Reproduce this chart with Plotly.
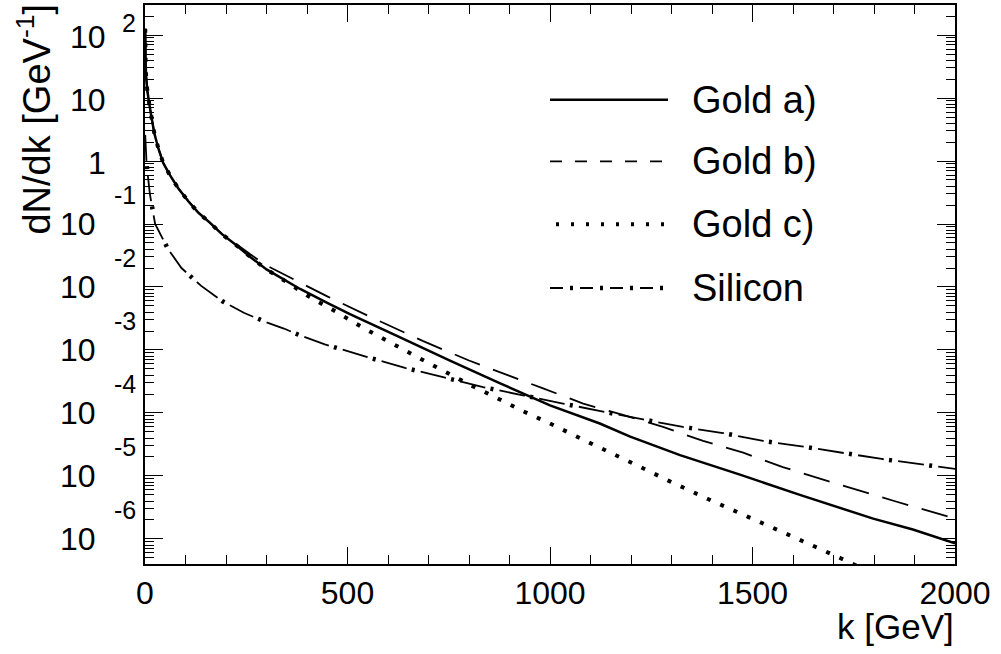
import math
import plotly.graph_objects as go

# ---------------- data ----------------
series_names = ["Gold a)", "Gold b)", "Gold c)", "Silicon"]

k_gold_a = [0.5, 1, 1.5, 2.5, 5.5, 10.5, 16.5, 23, 33, 45, 62, 82, 107, 132, 160, 190,
            220, 260, 300, 383, 450, 506, 630, 753, 877, 1000, 1123, 1198, 1321, 1469,
            1617, 1798, 1896, 2000]
dndk_gold_a = [126, 71, 40, 23.4, 13.5, 8.1, 4.8, 2.75, 1.58, 0.93, 0.59, 0.37, 0.23, 0.151,
               0.105, 0.069, 0.049, 0.030, 0.019, 9.3e-3, 5.6e-3, 3.7e-3, 1.58e-3, 6.8e-4,
               2.95e-4, 1.32e-4, 6.8e-5, 4.2e-5, 2.14e-5, 1.05e-5, 5.0e-6, 2.1e-6, 1.41e-6,
               8.5e-7]

k_gold_b = [0.5, 1, 1.5, 2.5, 5.5, 10.5, 16.5, 23, 33, 45, 62, 82, 107, 132, 160, 190,
            220, 260, 300, 383, 450, 550, 687, 800, 983, 1082, 1180, 1279, 1378, 1477,
            1575, 1700, 1850, 2000]
dndk_gold_b = [126, 71, 40, 23.4, 13.5, 8.1, 4.8, 2.75, 1.58, 0.93, 0.59, 0.37, 0.23, 0.151,
               0.105, 0.069, 0.051, 0.033, 0.022, 0.0117, 7.1e-3, 3.5e-3, 1.38e-3, 6.8e-4,
               2.45e-4, 1.41e-4, 9.3e-5, 6.0e-5, 3.6e-5, 2.34e-5, 1.38e-5, 7.8e-6, 4.0e-6,
               2.1e-6]

k_gold_c = [0.5, 1, 1.5, 2.5, 5.5, 10.5, 16.5, 23, 33, 45, 62, 82, 107, 132, 160, 190,
            220, 260, 300, 350, 407, 473, 539, 605, 671, 736, 802, 868, 933, 1000, 1096,
            1195, 1291, 1390, 1489, 1588, 1719, 1780]
dndk_gold_c = [126, 71, 40, 23.4, 13.5, 8.1, 4.8, 2.75, 1.58, 0.93, 0.59, 0.37, 0.23, 0.151,
               0.105, 0.069, 0.049, 0.030, 0.019, 0.012, 6.9e-3, 4.0e-3, 2.24e-3, 1.32e-3,
               7.8e-4, 4.7e-4, 2.8e-4, 1.74e-4, 1.07e-4, 6.8e-5, 3.4e-5, 1.7e-5, 8.5e-6,
               4.3e-6, 2.24e-6, 1.17e-6, 4.9e-7, 3.2e-7]

k_silicon = [0.5, 4, 12, 25, 57, 90, 138, 190, 244, 300, 343, 383, 444, 543, 642, 736,
             835, 933, 1032, 1131, 1230, 1328, 1427, 1526, 1621, 1819, 2000]
dndk_silicon = [2.6, 0.89, 0.30, 0.10, 0.040, 0.020, 0.0105, 6.0e-3, 3.9e-3, 2.75e-3,
                2.19e-3, 1.70e-3, 1.23e-3, 7.9e-4, 5.2e-4, 3.7e-4, 2.57e-4, 1.91e-4,
                1.41e-4, 1.05e-4, 7.9e-5, 6.0e-5, 4.8e-5, 3.6e-5, 2.95e-5, 1.86e-5, 1.29e-5]

x_tick_vals = [0, 500, 1000, 1500, 2000]
x_tick_text = ["0", "500", "1000", "1500", "2000"]

y_decades = [2, 1, 0, -1, -2, -3, -4, -5, -6]
y_tick_base = ["10", "10", "1", "10", "10", "10", "10", "10", "10"]
y_tick_exp = ["2", "", "", "-1", "-2", "-3", "-4", "-5", "-6"]

x_title = "k [GeV]"
y_title = "dN/dk [GeV<sup>-1</sup>]"

# ---------------- layout constants ----------------
FONT = "Liberation Sans, Arial, Helvetica, sans-serif"
W, H = 1001, 654
L, R, T, B = 145, 46, 3, 90
PW, PH = W - L - R, H - T - B


def px_x(px):
    return (px - L) / PW


def px_y(py):
    return (H - B - py) / PH


fig = go.Figure()

common = dict(mode="lines", showlegend=False, hoverinfo="skip")
fig.add_trace(go.Scatter(x=k_gold_a, y=dndk_gold_a, name=series_names[0],
                         line=dict(color="black", width=2.5, dash="solid", simplify=False), **common))
fig.add_trace(go.Scatter(x=k_gold_b, y=dndk_gold_b, name=series_names[1],
                         line=dict(color="black", width=1.8, dash="27px,14px", simplify=False), **common))
fig.add_trace(go.Scatter(x=k_gold_c, y=dndk_gold_c, name=series_names[2],
                         line=dict(color="black", width=4, dash="4px,10.5px", simplify=False), **common))
fig.add_trace(go.Scatter(x=k_silicon, y=dndk_silicon, name=series_names[3],
                         line=dict(color="black", width=1.8, dash="26px,14.5px", simplify=False), **common))
fig.add_trace(go.Scatter(x=k_silicon, y=dndk_silicon, name=series_names[3] + " dots",
                         line=dict(color="black", width=4.5, dash="0px,31.3px,3px,6.2px", simplify=False),
                         **common))

annotations = []
# y tick labels in ROOT style (10 with a floating exponent)
for d, base, ex in zip(y_decades, y_tick_base, y_tick_exp):
    if d >= 0:
        bx, shift, ex_x, ex_shift = 108, -2, 120, 12
    else:
        bx, shift, ex_x, ex_shift = 98, 0, 112, 29
    if d == 0:
        bx = 108
    annotations.append(dict(x=px_x(bx), y=d, xref="paper", yref="y", text=base,
                            xanchor="right", yanchor="middle", yshift=shift, showarrow=False,
                            font=dict(family=FONT, size=32, color="black")))
    if ex:
        annotations.append(dict(x=px_x(ex_x), y=d, xref="paper", yref="y", text=ex,
                                xanchor="left", yanchor="middle", yshift=ex_shift, showarrow=False,
                                font=dict(family=FONT, size=25, color="black")))

# axis titles
annotations.append(dict(x=px_x(956), y=px_y(627), xref="paper", yref="paper", text=x_title,
                        xanchor="right", yanchor="middle", showarrow=False,
                        font=dict(family=FONT, size=35, color="black")))
annotations.append(dict(x=px_x(34), y=px_y(0), xref="paper", yref="paper", text=y_title,
                        textangle=-90, xanchor="center", yanchor="top", showarrow=False,
                        font=dict(family=FONT, size=38, color="black")))

# legend (drawn manually, ROOT style long samples)
leg_y = [98, 160, 223, 287]
leg_x0, leg_x1, leg_tx = 550, 668, 690
shapes = []
sample_styles = [
    [dict(width=2.5, dash="solid")],
    [dict(width=1.8, dash="12px,13px")],
    [dict(width=4, dash="3px,12px")],
    [dict(width=1.8, dash="13px,17px"), dict(width=4.5, dash="0px,20px,3px,7px")],
]
for name, yy, styles in zip(series_names, leg_y, sample_styles):
    x0 = leg_x0 + (6 if name == "Gold c)" else 0)
    for st in styles:
        shapes.append(dict(type="line", xref="paper", yref="paper",
                           x0=px_x(x0), x1=px_x(leg_x1), y0=px_y(yy), y1=px_y(yy),
                           line=dict(color="black", width=st["width"], dash=st["dash"])))
    annotations.append(dict(x=px_x(leg_tx), y=px_y(yy), xref="paper", yref="paper", text=name,
                            xanchor="left", yanchor="middle", showarrow=False,
                            font=dict(family=FONT, size=38, color="black")))

fig.update_layout(
    width=W, height=H,
    margin=dict(l=L, r=R, t=T, b=B, pad=0),
    paper_bgcolor="white", plot_bgcolor="white",
    font=dict(family=FONT, color="black"),
    annotations=annotations, shapes=shapes,
    xaxis=dict(range=[0, 2000], tickmode="array", tickvals=x_tick_vals, ticktext=x_tick_text,
               ticks="inside", ticklen=17, tickwidth=1, tickcolor="black",
               showline=True, linewidth=2, linecolor="black", mirror="allticks",
               showgrid=False, zeroline=False,
               tickfont=dict(family=FONT, size=32, color="black"),
               minor=dict(dtick=100, tick0=0, ticks="inside", ticklen=9, tickwidth=1,
                          tickcolor="black", showgrid=False)),
    yaxis=dict(type="log", range=[math.log10(4e-7), math.log10(300)], dtick=1,
               ticks="inside", ticklen=18, tickwidth=1, tickcolor="black",
               showticklabels=False,
               showline=True, linewidth=2, linecolor="black", mirror="allticks",
               showgrid=False, zeroline=False,
               minor=dict(dtick="D1", ticks="inside", ticklen=9, tickwidth=1,
                          tickcolor="black", showgrid=False)),
)

fig.write_html("out.html")
